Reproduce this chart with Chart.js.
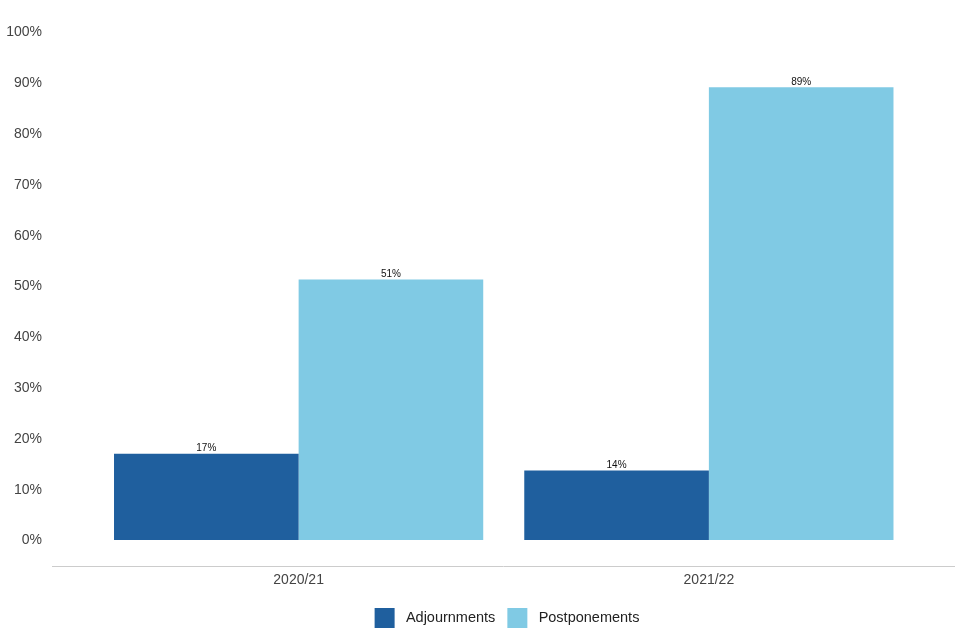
<!DOCTYPE html>
<html>
<head>
<meta charset="utf-8">
<script src="https://cdn.jsdelivr.net/npm/chart.js@4.4.1/dist/chart.umd.min.js"></script>
<style>
  html, body { margin: 0; padding: 0; background: #fff; }
  #wrap { width: 960px; height: 640px; }
</style>
</head>
<body>
<div id="wrap"><canvas id="barChart"></canvas></div>
<script>
// datos
const categories = ['2020/21', '2021/22'];
const adjournments = [17.1, 13.8];
const postponements = [51.4, 89.2];
const yTicks = [0, 10, 20, 30, 40, 50, 60, 70, 80, 90, 100];

// linea del eje x, mas ancha que el area del grafico
const axisLine = {
    id: 'axisLine',
    afterLayout(chart) {
        // centra la leyenda bajo la linea del eje
        const lg = chart.legend;
        const shift = 507 - (lg.left + lg.right) / 2;
        lg.left += shift;
        lg.right += shift;
    },
    afterDraw(chart) {
        const ctx = chart.ctx;
        const y = Math.round(chart.chartArea.bottom) + 0.5;
        ctx.save();
        ctx.strokeStyle = '#cccccc';
        ctx.lineWidth = 1;
        ctx.beginPath();
        ctx.moveTo(52, y);
        ctx.lineTo(955, y);
        ctx.stroke();
        ctx.restore();
    }
};

// etiquetas encima de cada barra
const barLabels = {
    id: 'barLabels',
    afterDatasetsDraw(chart) {
        const ctx = chart.ctx;
        ctx.save();
        ctx.font = '10px "Liberation Sans", Arial, sans-serif';
        ctx.fillStyle = '#111111';
        ctx.textAlign = 'center';
        ctx.textBaseline = 'bottom';
        chart.data.datasets.forEach((ds, i) => {
            chart.getDatasetMeta(i).data.forEach((bar, j) => {
                ctx.fillText(Math.round(ds.data[j]) + '%', bar.x, bar.y - 0.5);
            });
        });
        ctx.restore();
    }
};

const ctx = document.getElementById('barChart').getContext('2d');
const barChart = new Chart(ctx, {
    type: 'bar',
    data: {
        labels: categories,
        datasets: [{
            label: 'Adjournments',
            data: adjournments,
            backgroundColor: '#1f5f9e',
            categoryPercentage: 0.9,
            barPercentage: 1.0
        }, {
            label: 'Postponements',
            data: postponements,
            backgroundColor: '#80cae4',
            categoryPercentage: 0.9,
            barPercentage: 1.0
        }]
    },
    options: {
        responsive: true,
        maintainAspectRatio: false,
        animation: false,
        layout: {
            padding: { top: 4, right: 46, bottom: 2, left: 0 }
        },
        scales: {
            x: {
                grid: { display: false, drawTicks: false },
                border: { display: false },
                ticks: {
                    color: '#444444',
                    padding: 6,
                    font: { family: '"Liberation Sans", Arial, sans-serif', size: 14 }
                },
                afterFit: scale => { scale.height = 30; }
            },
            y: {
                min: -5,
                max: 100,
                grid: {
                    display: true,
                    drawOnChartArea: false,
                    drawTicks: true,
                    tickLength: 27.5,
                    color: 'rgba(0,0,0,0)'
                },
                border: { display: false },
                afterBuildTicks: scale => {
                    scale.ticks = yTicks.map(v => ({ value: v }));
                },
                ticks: {
                    color: '#444444',
                    padding: 24,
                    font: { family: '"Liberation Sans", Arial, sans-serif', size: 14 },
                    callback: value => value + '%'
                },
                afterFit: scale => { scale.width = 93.5; }
            }
        },
        plugins: {
            legend: {
                position: 'bottom',
                labels: {
                    boxWidth: 20,
                    boxHeight: 20,
                    padding: 12,
                    color: '#222222',
                    font: { family: '"Liberation Sans", Arial, sans-serif', size: 14.5 },
                    generateLabels: chart => {
                        const items = Chart.defaults.plugins.legend.labels.generateLabels(chart);
                        items.forEach(it => { it.text = ' ' + it.text; });
                        return items;
                    }
                }
            },
            tooltip: { enabled: false }
        }
    },
    plugins: [axisLine, barLabels]
});
</script>
</body>
</html>
